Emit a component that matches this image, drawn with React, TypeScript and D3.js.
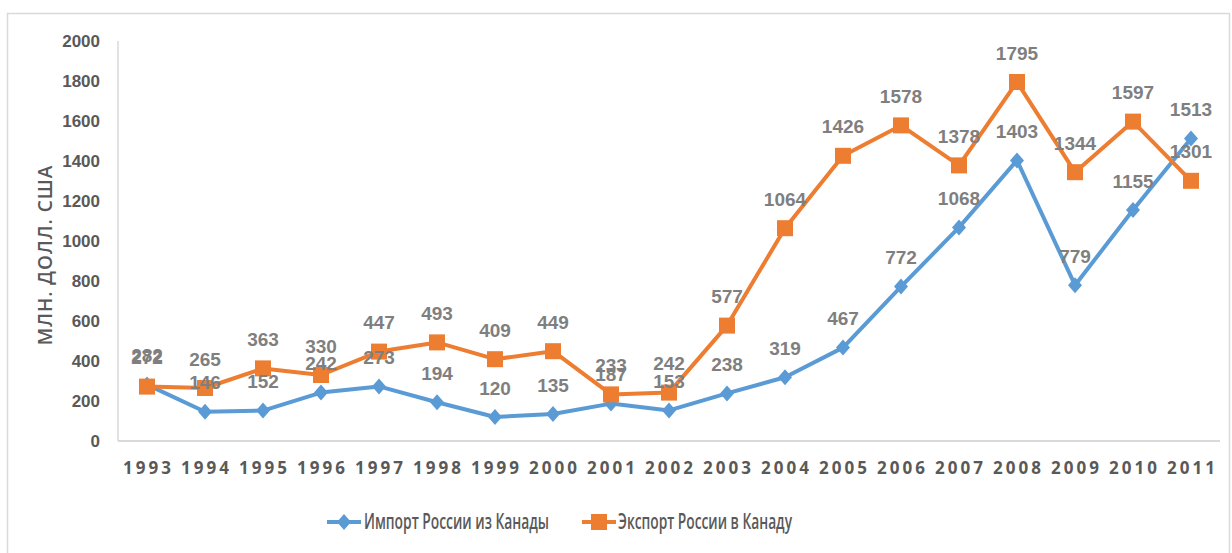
import React from "react";
import * as d3 from "d3";

const years = ["1993","1994","1995","1996","1997","1998","1999","2000","2001","2002","2003","2004","2005","2006","2007","2008","2009","2010","2011"];
const importVals = [282,146,152,242,273,194,120,135,187,153,238,319,467,772,1068,1403,779,1155,1513];
const exportVals = [272,265,363,330,447,493,409,449,233,242,577,1064,1426,1578,1378,1795,1344,1597,1301];
const yTicks = [0,200,400,600,800,1000,1200,1400,1600,1800,2000];
const seriesNames = ["Импорт России из Канады", "Экспорт России в Канаду"];

const W = 1232, H = 553;
const left = 118, right = 1220, top = 41, bottom = 441;
const BLUE = "#5b9bd5", ORANGE = "#ed7d31";
const NUM_FONT = "'Liberation Sans', sans-serif";

export default function App() {
  const x = d3.scaleBand<string>().domain(years).range([left, right]);
  const y = d3.scaleLinear().domain([0, 2000]).range([bottom, top]);
  const cx = (i: number) => (x(years[i]) as number) + x.bandwidth() / 2;
  const line = d3.line<number>().x((_, i) => cx(i)).y(d => y(d));

  return (
    <svg width={W} height={H} style={{ position: "absolute", left: 0, top: 0, background: "#fff" }}>
      <rect x={7.5} y={13.5} width={1222} height={560} fill="#fff" stroke="#d9d9d9" strokeWidth={1.5} />
      <line x1={left} x2={left} y1={top} y2={bottom} stroke="#d9d9d9" strokeWidth={1.5} />
      <line x1={left} x2={right} y1={bottom} y2={bottom} stroke="#d9d9d9" strokeWidth={2} />
      {yTicks.map(t => (
        <text key={t} x={100} y={y(t)} dy="0.35em" textAnchor="end" fontFamily={NUM_FONT} fontWeight="bold" fontSize={17} fill="#595959">{t}</text>
      ))}
      <text transform={`translate(45,255) rotate(-90)`} textAnchor="middle" dy="0.35em"
        fontFamily="'Open Sans', sans-serif" fontWeight={600} fontSize={19} letterSpacing={1} fill="#595959">МЛН. ДОЛЛ. США</text>
      {years.map((yr, i) => (
        <text key={yr} x={cx(i) + 1.5} y={468} dy="0.35em" textAnchor="middle" fontFamily="'Open Sans', sans-serif" fontWeight="bold" fontSize={17} letterSpacing={3} fill="#595959">{yr}</text>
      ))}
      <path d={line(importVals) || ""} fill="none" stroke={BLUE} strokeWidth={4} strokeLinejoin="round" />
      <path d={line(exportVals) || ""} fill="none" stroke={ORANGE} strokeWidth={4} strokeLinejoin="round" />
      {importVals.map((v, i) => (
        <path key={"d" + i} transform={`translate(${cx(i)},${y(v)})`} d="M0,-8L7,0L0,8L-7,0Z" fill={BLUE} />
      ))}
      {exportVals.map((v, i) => (
        <rect key={"s" + i} x={cx(i) - 8} y={y(v) - 8} width={16} height={16} fill={ORANGE} />
      ))}
      {importVals.map((v, i) => (
        <text key={"li" + i} x={cx(i)} y={y(v) - 29} dy="0.35em" textAnchor="middle" fontFamily={NUM_FONT} fontWeight="bold" fontSize={19} fill="#7f7f7f">{v}</text>
      ))}
      {exportVals.map((v, i) => (
        <text key={"le" + i} x={cx(i)} y={y(v) - 29} dy="0.35em" textAnchor="middle" fontFamily={NUM_FONT} fontWeight="bold" fontSize={19} fill="#7f7f7f">{v}</text>
      ))}
      <g transform="translate(327,522)">
        <line x1={0} x2={34} y1={0} y2={0} stroke={BLUE} strokeWidth={4} />
        <path d="M17,-8L24,0L17,8L10,0Z" fill={BLUE} />
        <text x={37} y={0} dy="0.35em" fontFamily="'Open Sans', sans-serif" fontWeight={600} fontSize={21} textLength={185} lengthAdjust="spacingAndGlyphs" fill="#595959">{seriesNames[0]}</text>
      </g>
      <g transform="translate(582,522)">
        <line x1={0} x2={34} y1={0} y2={0} stroke={ORANGE} strokeWidth={4} />
        <rect x={9} y={-8} width={16} height={16} fill={ORANGE} />
        <text x={36} y={0} dy="0.35em" fontFamily="'Open Sans', sans-serif" fontWeight={600} fontSize={21} textLength={174} lengthAdjust="spacingAndGlyphs" fill="#595959">{seriesNames[1]}</text>
      </g>
    </svg>
  );
}
